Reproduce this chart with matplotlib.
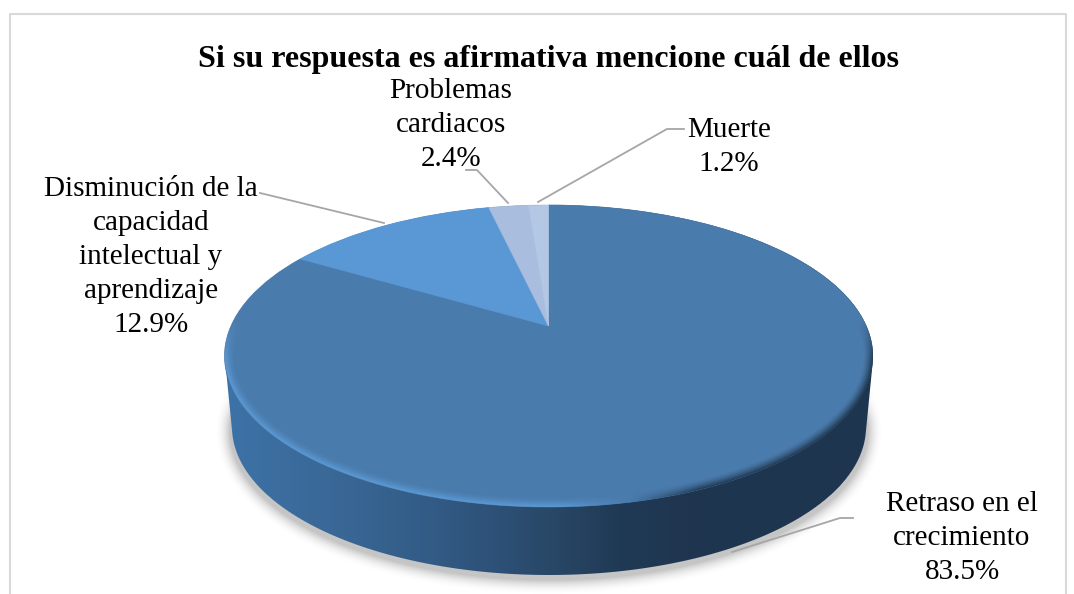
import matplotlib
matplotlib.use('Agg')
import matplotlib.pyplot as plt
from matplotlib.transforms import Transform
from matplotlib.colors import to_rgb
import numpy as np

title = 'Si su respuesta es afirmativa mencione cuál de ellos'
labels = ['Retraso en el\ncrecimiento', 'Disminución de la\ncapacidad\nintelectual y\naprendizaje',
          'Problemas\ncardiacos', 'Muerte']
values = [83.5, 12.9, 2.4, 1.2]
colors = ['#4A7BAD', '#5A98D5', '#A9BEDE', '#B4C8E6']

plt.rcParams['font.family'] = ['Liberation Serif', 'DejaVu Serif']

W, H = 1074, 594
# apex of the pie on the picture and the tilt of the perspective
apex_x, apex_y = 548.5, 326
top_h, bottom_h, half_w = 121, 181, 324
k = (bottom_h - top_h) / (bottom_h + top_h)
B = top_h * (1 + k)
A = half_w * np.sqrt(1 - k ** 2)


class Tilt(Transform):
    # unit circle -> tilted disc, in picture pixels
    input_dims = 2
    output_dims = 2
    is_separable = False

    def transform_non_affine(self, xy):
        xy = np.asarray(xy)
        w = 1 + k * xy[:, 1]
        return np.column_stack([apex_x + A * xy[:, 0] / w, apex_y - B * xy[:, 1] / w])


def signed_dist(X, Y, cx, cy, a, b):
    u = (X - cx) / a
    v = (Y - cy) / b
    d = np.sqrt(u ** 2 + v ** 2) + 1e-9
    g = np.sqrt((u / a) ** 2 + (v / b) ** 2) / d + 1e-9
    return (d - 1) / g


def ramp(X, stops):
    xs = [s[0] for s in stops]
    rgb = [to_rgb(s[1]) for s in stops]
    return np.dstack([np.interp(X, xs, [c[i] for c in rgb]) for i in range(3)])


fig = plt.figure(figsize=(W / 100, H / 100), dpi=100)
ax = fig.add_axes([0, 0, 1, 1])

wedges, _ = ax.pie(values, colors=colors, startangle=90, counterclock=False, radius=1)
tilt = Tilt()
for w in wedges:
    w.set_transform(tilt + ax.transData)
    w.set_zorder(3)
    # same colour edge, so the dark wall does not show through the seams
    w.set_edgecolor(w.get_facecolor())
    w.set_linewidth(0.5)

ax.set_aspect('auto')
ax.set_xlim(0, W)
ax.set_ylim(H, 0)
ax.axis('off')

X, Y = np.meshgrid(np.arange(W) + 0.5, np.arange(H) + 0.5)

# soft shadow under the disc
sd = signed_dist(X, Y, 549, 431, 319, 149)
shadow = 0.5 * np.clip(1 - sd / 15, 0, 1) ** 2 * np.clip((Y - 370) / 50, 0, 1)
img = np.zeros((H, W, 4))
img[..., :3] = 0.55
img[..., 3] = shadow
ax.imshow(img, extent=(0, W, H, 0), aspect='auto', zorder=1, interpolation='bilinear')

# side wall, swept from the top rim down to the lower rim
cover = np.zeros((H, W))
for t in np.linspace(0, 1, 36):
    sd = signed_dist(X, Y, 549, 356 + t * 71, 324 - t * 7, 151 - t * 3)
    cover = np.maximum(cover, np.clip(0.5 - sd, 0, 1))
img = np.zeros((H, W, 4))
img[..., :3] = ramp(X, [(232, '#3D72A6'), (330, '#3A6897'), (420, '#335D88'), (500, '#2D5076'),
                        (550, '#294867'), (620, '#203A55'), (700, '#1F354F'), (860, '#1E3550')])
img[..., 3] = cover
ax.imshow(img, extent=(0, W, H, 0), aspect='auto', zorder=2, interpolation='bilinear')

# bevel on the rim of the top face
sd = signed_dist(X, Y, 549, 356, 324, 151)
band = np.clip(1 + sd / 10, 0, 1) ** 1.5 * np.clip(0.5 - sd, 0, 1) * np.clip((Y - 320) / 40, 0, 1)
img = np.zeros((H, W, 4))
img[..., :3] = ramp(X, [(225, '#5C9BD6'), (560, '#5C9BD6'), (630, '#4A7BAD'), (700, '#20384F'), (873, '#20384F')])
img[..., 3] = band
ax.imshow(img, extent=(0, W, H, 0), aspect='auto', zorder=4, interpolation='bilinear')

ax.set_xlim(0, W)
ax.set_ylim(H, 0)

# chart border, the picture cuts it off at the bottom
ax.plot([9.5, 9.5, 1065.5, 1065.5], [H, 13.5, 13.5, H], color='#D9D9D9', lw=1.5, zorder=5)

# leader lines
leaders = [[(732, 552), (840, 518), (853, 518)],
           [(384, 223), (260, 193)],
           [(508, 203), (477, 170), (466, 170)],
           [(538, 202), (667, 129), (684, 129)]]
for pts in leaders:
    ax.plot([p[0] for p in pts], [p[1] for p in pts], color='#A6A6A6', lw=1.3, zorder=5)

label_pos = [(962, 538), (151, 257), (451, 125), (729, 147)]
for name, val, pos in zip(labels, values, label_pos):
    ax.text(pos[0], pos[1], f'{name}\n{val}%', ha='center', va='center', multialignment='center',
            fontsize=21, linespacing=1.40, color='black', zorder=6)

ax.text(549, 59, title, ha='center', va='center', fontsize=23, fontweight='bold', color='black', zorder=6)

fig.savefig('out.png', dpi=100)
